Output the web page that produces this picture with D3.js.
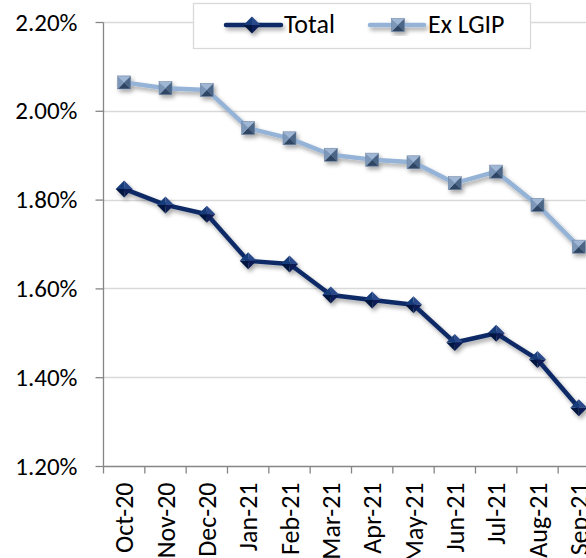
<!DOCTYPE html>
<html><head><meta charset="utf-8">
<script src="https://cdn.jsdelivr.net/npm/d3@7"></script>
<style>
html,body{margin:0;padding:0;background:#fff;overflow:hidden}
text{font-family:"Carlito","Lato",sans-serif;fill:#000}
</style></head>
<body><svg id="c" width="586" height="558"></svg>
<script>
const categories = ["Oct-20","Nov-20","Dec-20","Jan-21","Feb-21","Mar-21","Apr-21","May-21","Jun-21","Jul-21","Aug-21","Sep-21"];
const totalValues = [1.824,1.788,1.767,1.662,1.655,1.585,1.574,1.563,1.478,1.499,1.440,1.331];
const exLgipValues = [2.064,2.051,2.047,1.961,1.938,1.901,1.890,1.884,1.837,1.863,1.788,1.694];
const yTicks = [1.2,1.4,1.6,1.8,2.0,2.2];
const seriesNames = ["Total","Ex LGIP"];

const svg = d3.select("#c");
const defs = svg.append("defs");
const f = defs.append("filter").attr("id","sh").attr("x","-30%").attr("y","-30%").attr("width","160%").attr("height","160%");
f.append("feDropShadow").attr("dx",2).attr("dy",3).attr("stdDeviation",2).attr("flood-color","#000").attr("flood-opacity",0.35);

const x = d3.scaleBand().domain(categories).range([103.5, 599.5]);
const y = d3.scaleLinear().domain([1.2,2.2]).range([466,22]);

// gridlines
svg.append("g").selectAll("line").data(yTicks.slice(1)).join("line")
  .attr("x1",103.5).attr("x2",586).attr("y1",d=>Math.round(y(d))+0.5).attr("y2",d=>Math.round(y(d))+0.5)
  .attr("stroke","#d9d9d9").attr("stroke-width",1.3);

// y axis
const ya = svg.append("g").attr("transform","translate(103.5,0)")
  .call(d3.axisLeft(y).tickValues(yTicks).tickSize(8).tickPadding(18).tickFormat(d=>d3.format(".2f")(d)+"%"));
ya.select(".domain").attr("stroke","#868686").attr("stroke-width",1.3).attr("d","M0,22.5V466.5");
ya.selectAll(".tick line").attr("stroke","#868686").attr("stroke-width",1.3);
ya.selectAll(".tick text").style("font-family","Carlito, Lato, sans-serif").style("font-size","25px").attr("fill","#000");

// x axis
const xa = svg.append("g").attr("transform","translate(0,466.5)");
xa.append("line").attr("x1",103.5).attr("x2",586).attr("stroke","#868686").attr("stroke-width",1.3);
xa.selectAll("line.t").data(categories).join("line").attr("class","t")
  .attr("x1",d=>x(d)+x.bandwidth()).attr("x2",d=>x(d)+x.bandwidth()).attr("y1",0).attr("y2",7)
  .attr("stroke","#868686").attr("stroke-width",1.3);
xa.append("line").attr("x1",103.5).attr("x2",103.5).attr("y1",0).attr("y2",7).attr("stroke","#868686").attr("stroke-width",1.3);
xa.selectAll("text").data(categories).join("text")
  .attr("transform",d=>`translate(${x(d)+x.bandwidth()/2+9},16) rotate(-90)`)
  .attr("text-anchor","end").style("font-size","26px").text(d=>d);

const line = d3.line().x((d,i)=>x(categories[i])+x.bandwidth()/2).y(d=>y(d));

function diamond(g, cx, cy, r){
  const c = ["#2a4a8a","#0a1f55","#06163f","#173a7a"];
  const pts=[[cx,cy-r],[cx+r,cy],[cx,cy+r],[cx-r,cy]];
  for(let k=0;k<4;k++){
    const a=pts[k], b=pts[(k+1)%4];
    g.append("path").attr("d",`M${cx},${cy}L${a[0]},${a[1]}L${b[0]},${b[1]}Z`).attr("fill",c[k]);
  }
}
function square(g, cx, cy, r){
  const c = ["#9fb6d4","#4b6586","#2f4563","#7d97b8"];
  const pts=[[cx-r,cy-r],[cx+r,cy-r],[cx+r,cy+r],[cx-r,cy+r]];
  for(let k=0;k<4;k++){
    const a=pts[k], b=pts[(k+1)%4];
    g.append("path").attr("d",`M${cx},${cy}L${a[0]},${a[1]}L${b[0]},${b[1]}Z`).attr("fill",c[k]);
  }
  g.append("rect").attr("x",cx-r).attr("y",cy-r).attr("width",2*r).attr("height",2*r).attr("fill","none").attr("stroke","#6f87a6").attr("stroke-width",0.6);
}

// Ex LGIP series
const g2 = svg.append("g").attr("filter","url(#sh)");
g2.append("path").datum(exLgipValues).attr("d",line).attr("fill","none").attr("stroke","#95b3d7").attr("stroke-width",4.5).attr("stroke-linejoin","round");
exLgipValues.forEach((v,i)=>square(g2, x(categories[i])+x.bandwidth()/2, y(v), 6.5));

// Total series
const g1 = svg.append("g").attr("filter","url(#sh)");
g1.append("path").datum(totalValues).attr("d",line).attr("fill","none").attr("stroke","#0d2a66").attr("stroke-width",4.5).attr("stroke-linejoin","round");
totalValues.forEach((v,i)=>diamond(g1, x(categories[i])+x.bandwidth()/2, y(v), 8.5));

// legend
const lg = svg.append("g");
lg.append("rect").attr("x",193.5).attr("y",3.5).attr("width",337).attr("height",45).attr("fill","#fff").attr("stroke","#d9d9d9").attr("stroke-width",1.3);
const l1 = lg.append("g").attr("filter","url(#sh)");
l1.append("line").attr("x1",226).attr("x2",281).attr("y1",25).attr("y2",25).attr("stroke","#0d2a66").attr("stroke-width",4.5).attr("stroke-linecap","round");
diamond(l1, 252, 25, 8.5);
lg.append("text").attr("x",284).attr("y",33).style("font-size","26px").text(seriesNames[0]);
const l2 = lg.append("g").attr("filter","url(#sh)");
l2.append("line").attr("x1",370).attr("x2",424).attr("y1",25).attr("y2",25).attr("stroke","#95b3d7").attr("stroke-width",4.5).attr("stroke-linecap","round");
square(l2, 398, 25, 6.5);
lg.append("text").attr("x",428).attr("y",33).style("font-size","26px").text(seriesNames[1]);
</script></body></html>
